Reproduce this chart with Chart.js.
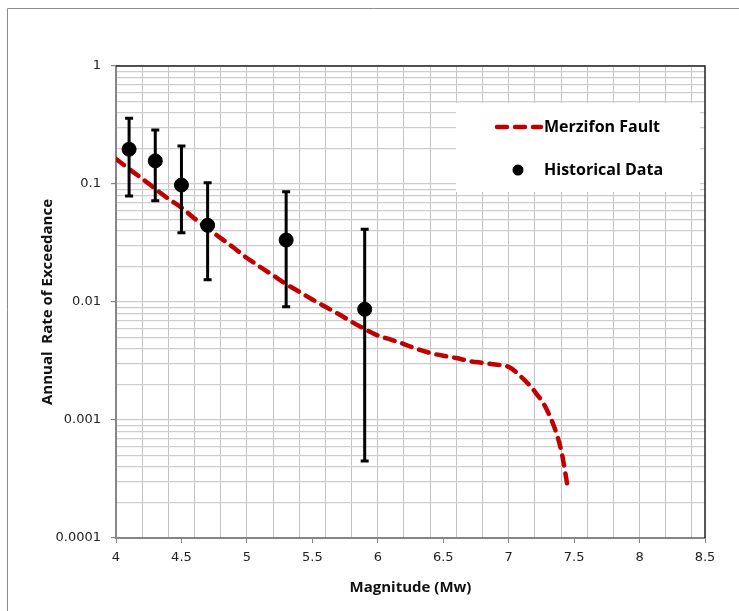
<!DOCTYPE html>
<html>
<head>
<meta charset="utf-8">
<script src="https://cdn.jsdelivr.net/npm/chart.js@4.4.1/dist/chart.umd.min.js"></script>
<style>
  html, body { margin: 0; padding: 0; background: #fff; }
  canvas { display: block; }
</style>
</head>
<body>
<canvas id="myChart" width="739" height="611"></canvas>
<script>
// Merzifon fault recurrence curve
var faultMag = [4.0, 4.1, 4.2, 4.3, 4.4, 4.5, 4.6, 4.7, 4.8, 4.9, 5.0, 5.1, 5.2, 5.3, 5.4, 5.5,
                5.6, 5.7, 5.8, 5.9, 6.0, 6.1, 6.2, 6.3, 6.4, 6.5, 6.6, 6.7, 6.8, 6.9, 7.0,
                7.1, 7.2, 7.3, 7.4, 7.45];
var faultRate = [0.163, 0.134, 0.111, 0.091, 0.075, 0.063, 0.051, 0.042, 0.0348, 0.0288, 0.0236,
                 0.0199, 0.0168, 0.0142, 0.0122, 0.0105, 0.0091, 0.0079, 0.0068, 0.0059, 0.0052,
                 0.0048, 0.0044, 0.0040, 0.0037, 0.0035, 0.00335, 0.00316, 0.00305, 0.00295,
                 0.00282, 0.0023, 0.00174, 0.00117, 0.00056, 0.000275];

// historical data with error bars
var histMag  = [4.1, 4.3, 4.5, 4.7, 5.3, 5.9];
var histRate = [0.197, 0.157, 0.098, 0.0447, 0.0335, 0.00867];
var histLow  = [0.079, 0.072, 0.0387, 0.0154, 0.0091, 0.00045];
var histHigh = [0.36, 0.287, 0.21, 0.1026, 0.086, 0.0413];

var decades = [0.0001, 0.001, 0.01, 0.1, 1];
var xLabels = [4, 4.5, 5, 5.5, 6, 6.5, 7, 7.5, 8, 8.5];

function isMult(v, step) {
  var q = v / step;
  return Math.abs(q - Math.round(q)) < 1e-6;
}

// y: every 1..9 x 10^n line ; x: grid every 0.2, ticks every 0.5
var yTicks = [];
decades.forEach(function (d, i) {
  if (i == decades.length - 1) { yTicks.push(d); return; }
  for (var k = 1; k < 10; k++) yTicks.push(+(d * k).toPrecision(3));
});
var xTicks = [];
for (var i = 0; i <= 45; i++) {
  var v = +(4 + i * 0.1).toFixed(1);
  if (isMult(v, 0.2) || isMult(v, 0.5)) xTicks.push(v);
}

var frame = {
  id: 'frame',
  beforeDraw: function (chart) {
    var c = chart.ctx;
    c.save();
    c.fillStyle = '#fff';
    c.fillRect(0, 0, chart.width, chart.height);
    c.strokeStyle = '#8c8c8c';
    c.lineWidth = 1;
    c.beginPath();
    c.moveTo(7.5, chart.height);
    c.lineTo(7.5, 8.5);
    c.lineTo(chart.width, 8.5);
    c.stroke();
    c.restore();
  },
  afterDraw: function (chart) {
    var c = chart.ctx, a = chart.chartArea;
    var xs = chart.scales.x, ys = chart.scales.y;
    c.save();
    // error bars
    c.strokeStyle = '#000';
    c.lineWidth = 3;
    for (var i = 0; i < histMag.length; i++) {
      var px = xs.getPixelForValue(histMag[i]);
      var lo = ys.getPixelForValue(histLow[i]);
      var hi = ys.getPixelForValue(histHigh[i]);
      c.beginPath();
      c.moveTo(px, lo); c.lineTo(px, hi);
      c.moveTo(px - 4, lo); c.lineTo(px + 4, lo);
      c.moveTo(px - 4, hi); c.lineTo(px + 4, hi);
      c.stroke();
    }
    // top / right plot border
    c.strokeStyle = '#222';
    c.lineWidth = 1.5;
    c.beginPath();
    c.moveTo(a.left, a.top); c.lineTo(a.right, a.top); c.lineTo(a.right, a.bottom);
    c.stroke();
    // legend
    var bx = a.right - 249, by = a.top + 37;
    c.fillStyle = '#fff';
    c.fillRect(bx, by, 244, 89);
    c.strokeStyle = '#c00000';
    c.lineWidth = 4.5;
    c.lineCap = 'round';
    c.setLineDash([10, 8]);
    c.beginPath();
    c.moveTo(bx + 41, by + 24); c.lineTo(bx + 85, by + 24);
    c.stroke();
    c.setLineDash([]);
    c.fillStyle = '#000';
    c.beginPath();
    c.arc(bx + 62, by + 67, 5.5, 0, Math.PI * 2);
    c.fill();
    c.font = 'bold 16px "Open Sans"';
    c.textBaseline = 'middle';
    c.fillText('Merzifon Fault', bx + 88, by + 24);
    c.fillText('Historical Data', bx + 88, by + 67);
    c.restore();
  }
};

var ctx = document.getElementById('myChart').getContext('2d');
var chart = new Chart(ctx, {
  type: 'scatter',
  data: {
    datasets: [{
      label: 'Historical Data',
      data: histMag.map(function (m, i) { return { x: m, y: histRate[i] }; }),
      backgroundColor: '#000',
      borderColor: '#000',
      pointRadius: 7,
      pointHoverRadius: 7
    }, {
      label: 'Merzifon Fault',
      type: 'line',
      data: faultMag.map(function (m, i) { return { x: m, y: faultRate[i] }; }),
      borderColor: '#c00000',
      borderWidth: 4.5,
      borderDash: [10, 8],
      borderCapStyle: 'round',
      cubicInterpolationMode: 'monotone',
      pointRadius: 0,
      fill: false
    }]
  },
  options: {
    responsive: false,
    animation: false,
    layout: { padding: { left: 0, top: 66, right: 34, bottom: 0 } },
    plugins: { legend: { display: false }, tooltip: { enabled: false } },
    scales: {
      x: {
        type: 'linear',
        min: 4, max: 8.5,
        afterFit: function (s) { s.height = 73; },
        afterBuildTicks: function (s) { s.ticks = xTicks.map(function (v) { return { value: v }; }); },
        border: { color: '#868686', width: 2 },
        grid: {
          color: function (c) { return c.tick && isMult(c.tick.value, 0.2) ? '#c4c4c4' : 'rgba(0,0,0,0)'; },
          tickColor: function (c) { return c.tick && isMult(c.tick.value, 0.5) ? '#868686' : 'rgba(0,0,0,0)'; },
          tickLength: 5,
          lineWidth: 1
        },
        ticks: {
          autoSkip: false,
          maxRotation: 0,
          padding: 7,
          color: '#222',
          font: { family: 'DejaVu Sans', size: 13 },
          callback: function (v) { return xLabels.indexOf(+(+v).toFixed(1)) >= 0 ? String(+(+v).toFixed(1)) : ''; }
        },
        title: {
          display: true,
          text: 'Magnitude (Mw)',
          color: '#111',
          font: { family: 'Open Sans', size: 15, weight: 'bold' },
          padding: { top: 0, bottom: 14 }
        }
      },
      y: {
        type: 'logarithmic',
        min: 0.0001, max: 1,
        afterFit: function (s) { s.width = 116; },
        afterBuildTicks: function (s) { s.ticks = yTicks.map(function (v) { return { value: v }; }); },
        border: { color: '#868686', width: 2 },
        grid: {
          color: '#cdcdcd',
          lineWidth: 1.2,
          tickColor: function (c) { return c.tick && decades.indexOf(c.tick.value) >= 0 ? '#868686' : 'rgba(0,0,0,0)'; },
          tickLength: 5
        },
        ticks: {
          autoSkip: false,
          padding: 10,
          color: '#222',
          font: { family: 'DejaVu Sans', size: 13 },
          callback: function (v) { return decades.indexOf(v) >= 0 ? String(v) : ''; }
        },
        title: {
          display: true,
          text: 'Annual  Rate of Exceedance',
          color: '#111',
          font: { family: 'Open Sans', size: 15, weight: 'bold' },
          padding: { top: 39, bottom: 0 }
        }
      }
    }
  },
  plugins: [frame]
});
</script>
</body>
</html>
